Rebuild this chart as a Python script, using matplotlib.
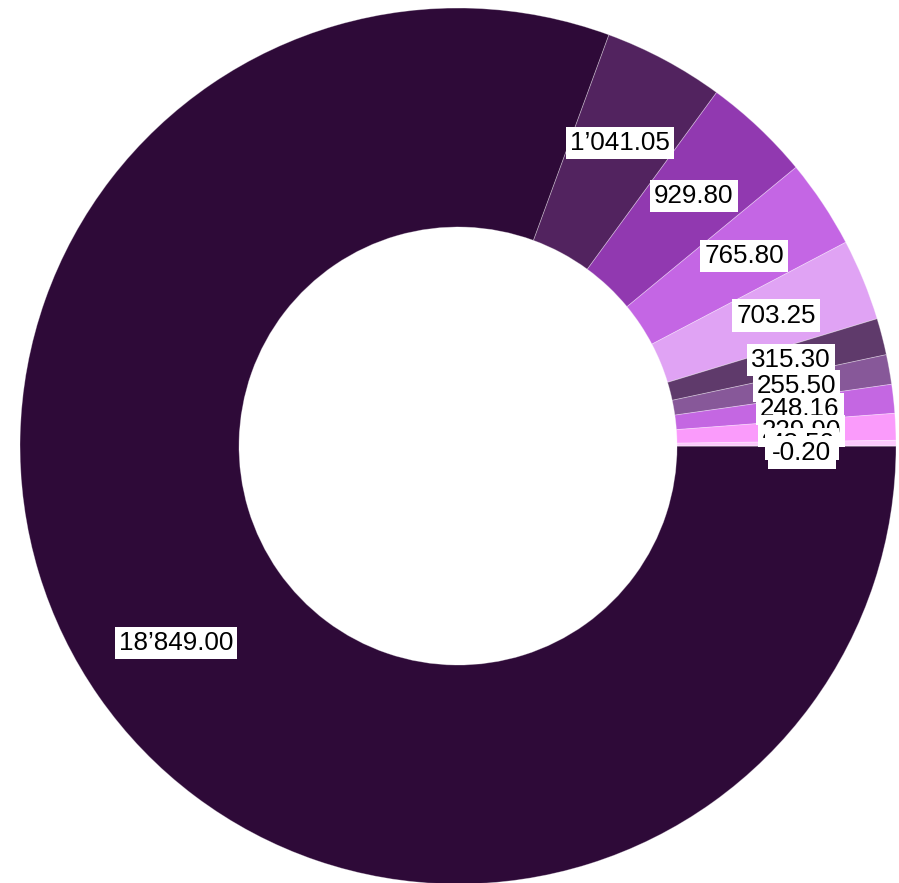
import matplotlib
matplotlib.use("Agg")
import matplotlib.pyplot as plt
import numpy as np

# slice values, in drawing order (clockwise from 3 o'clock)
values = [18849.00, 1041.05, 929.80, 765.80, 703.25, 315.30, 255.50, 248.16, 229.90, 48.50, -0.20]
colors = ["#2e0a38", "#52235f", "#9139b0", "#c466e4", "#e0a3f4", "#5f3a6b",
          "#875899", "#c467e2", "#fa9bfb", "#fcc9fc", "#f5e0f7"]


def fmt(v):
    # swiss style thousands separator
    s = "{:,.2f}".format(v)
    return s.replace(",", "\u2019")


plt.rcParams['font.family'] = ['Liberation Sans', 'DejaVu Sans']

fig = plt.figure(figsize=(8.99, 8.83), dpi=100)
ax = fig.add_axes([0, 0, 1, 1])

sizes = np.clip(values, 0, None)
wedges, texts = ax.pie(sizes, colors=colors, startangle=0, counterclock=False,
                       radius=1.0, labels=[fmt(v) for v in values], labeldistance=0.785,
                       wedgeprops=dict(width=0.5, edgecolor=(1, 1, 1, 0.35), linewidth=0.6),
                       textprops=dict(fontsize=18.7, ha="center", va="center"))

for t in texts:
    t.set_ha("center")
    t.set_bbox(dict(facecolor="white", edgecolor="none", pad=3))

# the negative value label sits a touch below the horizontal
x, y = texts[-1].get_position()
texts[-1].set_position((x, y - 0.015))

ax.set_aspect("auto")
ax.set_xlim(-1.0457, 1.0068)
ax.set_ylim(-0.9977, 1.0183)
ax.axis("off")

fig.savefig("out.png", dpi=100)
